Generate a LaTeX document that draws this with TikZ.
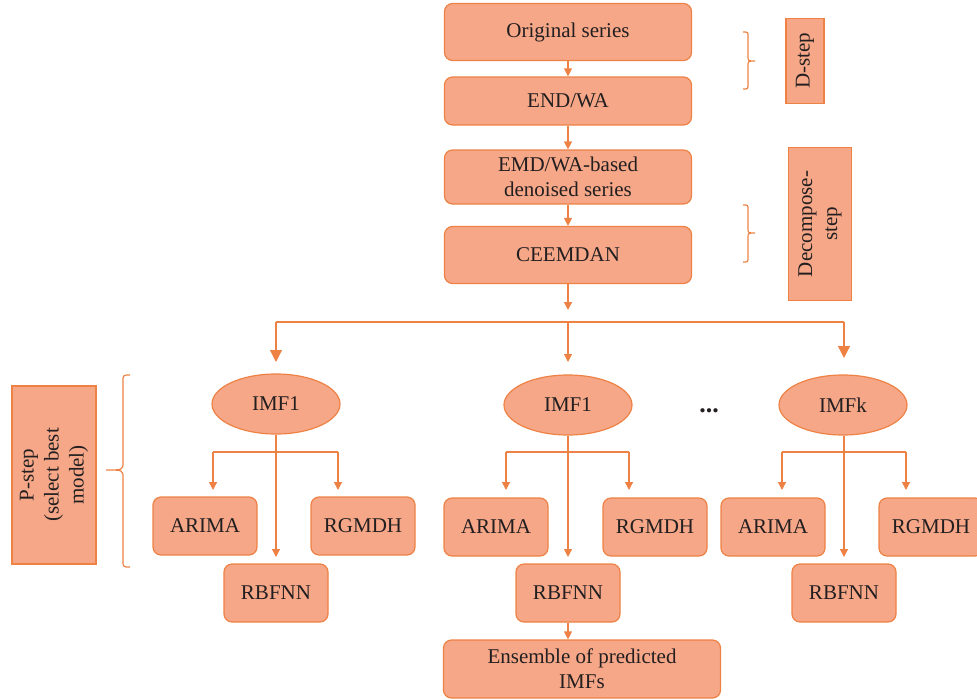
\documentclass[tikz,border=0pt]{standalone}
\usepackage{fontspec}
\setmainfont{Liberation Serif}
\usetikzlibrary{arrows.meta,shapes.geometric}
\definecolor{fillc}{RGB}{245,167,136}
\definecolor{linec}{RGB}{238,130,68}
\definecolor{txtc}{RGB}{35,31,32}
\begin{document}
\begin{tikzpicture}[x=1pt,y=-1pt,
  txt/.style={text=txtc, font=\fontsize{21}{25}\selectfont, align=center},
  box/.style={txt, draw=linec, line width=1.2pt, fill=fillc, rounded corners=8pt, inner sep=0pt},
  ell/.style={txt, ellipse, draw=linec, line width=1.2pt, fill=fillc, inner sep=0pt, minimum width=128pt, minimum height=60pt},
  tag/.style={txt, draw=linec, line width=1.2pt, fill=fillc, rotate=90, inner sep=0pt},
  ln/.style={draw=linec, line width=1.2pt},
  arr/.style={ln, -{Triangle[width=8pt,length=8pt]}},
  bigarr/.style={ln, -{Triangle[width=12pt,length=12pt]}}]
\useasboundingbox (0,0) rectangle (977,699);

% main column
\node[box, minimum width=247pt, minimum height=57pt] (orig) at (568,32) {Original series};
\node[box, minimum width=247pt, minimum height=48pt] (endwa) at (568,101) {END/WA};
\node[box, minimum width=247pt, minimum height=54pt] (emd) at (568,177) {EMD/WA-based\\denoised series};
\node[box, minimum width=247pt, minimum height=57pt] (ceem) at (568,255) {CEEMDAN};

% step labels
\node[tag, minimum width=85pt, minimum height=38pt] (dstep) at (805,61) {D-step};
\node[tag, minimum width=153pt, minimum height=63pt] (decomp) at (820,224) {Decompose-\\step};
\node[tag, minimum width=178pt, minimum height=84pt] (pstep) at (54,475) {P-step\\(select best\\model)};

% brackets
\draw[ln] (743,32) .. controls (748,32) .. (748,37) -- (748,56) .. controls (748,61) .. (755,61)
          .. controls (748,61) .. (748,66) -- (748,84) .. controls (748,89) .. (743,89);
\draw[ln] (743,205) .. controls (748,205) .. (748,210) -- (748,228) .. controls (748,233) .. (755,233)
          .. controls (748,233) .. (748,238) -- (748,257) .. controls (748,262) .. (743,262);
\draw[ln] (130,375) .. controls (123,375) .. (123,382) -- (123,462) .. controls (123,470) .. (106,470)
          .. controls (123,470) .. (123,478) -- (123,560) .. controls (123,567) .. (130,567);

\draw[arr] (orig) -- (endwa);
\draw[arr] (endwa) -- (emd);
\draw[arr] (emd) -- (ceem);
\coordinate (ctip) at (568,310);
\draw[arr] (ceem) -- (ctip);

% IMF level
\node[ell] (imfA) at (276,404) {IMF1};
\node[ell] (imfB) at (568,405) {IMF1};
\node[ell] (imfC) at (843,405) {IMFk};
\node[txt, font=\fontsize{26}{26}\selectfont\bfseries] (dots) at (709,411) {...};

\coordinate (sA) at (276,322); \coordinate (sB) at (568,322); \coordinate (sC) at (844,322);
\coordinate (tA) at (276,362); \coordinate (tB) at (568,362); \coordinate (tC) at (844,358);
\draw[ln] (sA) -- (sC);
\draw[bigarr] (sA) -- (tA);
\draw[arr] (sB) -- (tB);
\draw[bigarr] (sC) -- (tC);

% model boxes
\tikzset{mbox/.style={box, minimum width=104pt, minimum height=58pt}}
\node[mbox] (ariA) at (205,526) {ARIMA};
\node[mbox] (rgA) at (363,526) {RGMDH};
\node[mbox] (rbA) at (276,593) {RBFNN};
\node[mbox] (ariB) at (496,527) {ARIMA};
\node[mbox] (rgB) at (655,527) {RGMDH};
\node[mbox] (rbB) at (568,593) {RBFNN};
\node[mbox] (ariC) at (773,527) {ARIMA};
\node[mbox] (rgC) at (931,527) {RGMDH};
\node[mbox] (rbC) at (844,593) {RBFNN};
\node[box, minimum width=277pt, minimum height=58pt] (ens) at (582,669) {Ensemble of predicted\\IMFs};

% branches
\foreach \l/\r in {213/338, 506/629, 782/906}{
  \draw[ln] (\l,452) -- (\r,452);
  \draw[arr] (\l,452) -- (\l,490);
  \draw[arr] (\r,452) -- (\r,490);
}
\draw[arr] (imfA.south) -- (rbA.north |- 0,557);
\draw[arr] (imfB.south) -- (rbB.north |- 0,557);
\draw[arr] (rbC.north |- imfC.south) -- (rbC.north |- 0,557);
\draw[arr] (rbB.south) -- (rbB.south |- ens.north);
\end{tikzpicture}
\end{document}
